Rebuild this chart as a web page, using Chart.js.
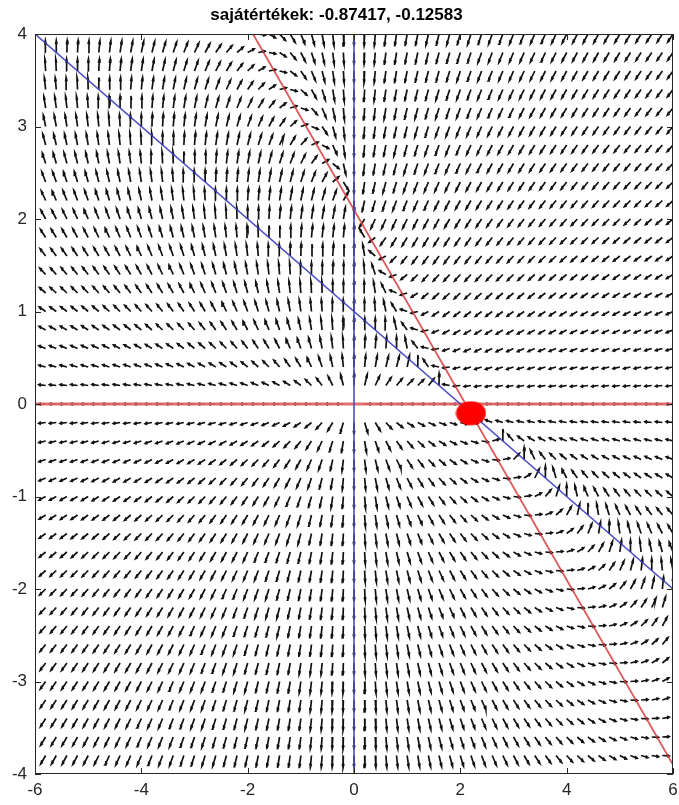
<!DOCTYPE html>
<html>
<head>
<meta charset="utf-8">
<script src="https://cdn.jsdelivr.net/npm/chart.js@4/dist/chart.umd.min.js"></script>
<style>
  html, body { margin: 0; padding: 0; background: #ffffff; }
  #wrap { width: 679px; height: 805px; }
</style>
</head>
<body>
<div id="wrap"><canvas id="c" width="679" height="805"></canvas></div>
<script>
// Eigenvalues of the Jacobian at the coexistence equilibrium
const eigenvalues = [-0.87417, -0.12583];

// Sample grid of the direction field
const gridX = [-6, -5.8, -5.6, -5.4, -5.2, -5, -4.8, -4.6, -4.4, -4.2, -4, -3.8, -3.6, -3.4, -3.2,
  -3, -2.8, -2.6, -2.4, -2.2, -2, -1.8, -1.6, -1.4, -1.2, -1, -0.8, -0.6, -0.4, -0.2, 0,
  0.2, 0.4, 0.6, 0.8, 1, 1.2, 1.4, 1.6, 1.8, 2, 2.2, 2.4, 2.6, 2.8, 3, 3.2, 3.4, 3.6, 3.8,
  4, 4.2, 4.4, 4.6, 4.8, 5, 5.2, 5.4, 5.6, 5.8, 6];
const gridY = [-4, -3.8, -3.6, -3.4, -3.2, -3, -2.8, -2.6, -2.4, -2.2, -2, -1.8, -1.6, -1.4, -1.2,
  -1, -0.8, -0.6, -0.4, -0.2, 0, 0.2, 0.4, 0.6, 0.8, 1, 1.2, 1.4, 1.6, 1.8, 2,
  2.2, 2.4, 2.6, 2.8, 3, 3.2, 3.4, 3.6, 3.8, 4];

// Model coefficients:  x' = x (a + b x + c y),  y' = y (a + b x + c y)
const rateX = [1, -0.5, -1];
const rateY = [2.1, -1, -1];

// Nullclines of x' (blue) and y' (red)
const blueDiagX = [-6, 6];
const blueDiagY = [4, -2];
const blueAxisX = [0, 0];
const blueAxisY = [-4, 4];
const redDiagX = [-1.9, 6];
const redDiagY = [4, -3.9];
const redAxisX = [-6, 6];
const redAxisY = [0, 0];

// Equilibrium where the two diagonal nullclines meet
const fixedX = [2.2];
const fixedY = [-0.1];

// Axis ticks
const xTicks = [-6, -4, -2, 0, 2, 4, 6];
const yTicks = [-4, -3, -2, -1, 0, 1, 2, 3, 4];

const ARROW_LEN = 0.13;    // arrow length in data units (vectors are normalised)
const HEAD_A = 0.33, HEAD_B = 0.33;

function pairs(xs, ys) { return xs.map((x, i) => ({ x: x, y: ys[i] })); }

// Build one polyline of normalised quiver arrows, broken by gaps
function buildArrows() {
  const pts = [];
  const gap = { x: NaN, y: NaN };
  for (const y of gridY) {
    for (const x of gridX) {
      let u = x * (rateX[0] + rateX[1] * x + rateX[2] * y);
      let v = y * (rateY[0] + rateY[1] * x + rateY[2] * y);
      const n = Math.hypot(u, v);
      if (n === 0) continue;
      u = u / n * ARROW_LEN;
      v = v / n * ARROW_LEN;
      const tx = x + u, ty = y + v;
      pts.push({ x: x, y: y }, { x: tx, y: ty }, gap);
      pts.push({ x: tx - HEAD_A * (u + HEAD_B * v), y: ty - HEAD_A * (v - HEAD_B * u) });
      pts.push({ x: tx, y: ty });
      pts.push({ x: tx - HEAD_A * (u - HEAD_B * v), y: ty - HEAD_A * (v + HEAD_B * u) });
      pts.push(gap);
    }
  }
  return pts;
}

// Elliptical marker for the equilibrium
const dot = document.createElement('canvas');
dot.width = 31; dot.height = 25;
(function () {
  const g = dot.getContext('2d');
  g.fillStyle = '#ff0000';
  g.beginPath();
  g.ellipse(15.5, 12.5, 15, 12, 0, 0, Math.PI * 2);
  g.fill();
})();

// Box around the plot with inward tick marks on all four sides
const boxTicks = {
  id: 'boxTicks',
  afterDatasetsDraw(chart) {
    const { ctx, chartArea: a, scales } = chart;
    ctx.save();
    ctx.strokeStyle = '#262626';
    ctx.lineWidth = 1;
    ctx.strokeRect(a.left + 0.5, a.top + 0.5, a.right - a.left - 1, a.bottom - a.top - 1);
    const L = 6;
    ctx.beginPath();
    for (const t of xTicks) {
      const px = Math.round(scales.x.getPixelForValue(t)) + 0.5;
      ctx.moveTo(px, a.bottom); ctx.lineTo(px, a.bottom - L);
      ctx.moveTo(px, a.top); ctx.lineTo(px, a.top + L);
    }
    for (const t of yTicks) {
      const py = Math.round(scales.y.getPixelForValue(t)) + 0.5;
      ctx.moveTo(a.left, py); ctx.lineTo(a.left + L, py);
      ctx.moveTo(a.right, py); ctx.lineTo(a.right - L, py);
    }
    ctx.stroke();
    ctx.restore();
  }
};

const tickFont = { family: "'Liberation Sans', Arial, sans-serif", size: 17 };

new Chart(document.getElementById('c'), {
  type: 'scatter',
  data: {
    datasets: [
      { label: 'egyensúlyi pont', data: pairs(fixedX, fixedY), pointStyle: dot,
        pointRadius: 12, showLine: false, clip: false, order: 0 },
      { label: 'x nullklína', data: pairs(blueDiagX, blueDiagY), showLine: true,
        borderColor: 'rgba(60,60,190,0.9)', borderWidth: 1.6, pointRadius: 0, order: 1 },
      { label: 'x nullklína (x=0)', data: pairs(blueAxisX, blueAxisY), showLine: true,
        borderColor: 'rgb(75,75,205)', borderWidth: 1.6, pointRadius: 0, order: 1 },
      { label: 'y nullklína', data: pairs(redDiagX, redDiagY), showLine: true,
        borderColor: 'rgba(215,60,60,0.85)', borderWidth: 1.8, pointRadius: 0, order: 1 },
      { label: 'y nullklína (y=0)', data: pairs(redAxisX, redAxisY), showLine: true,
        borderColor: 'rgba(225,100,100,0.92)', borderWidth: 3, pointRadius: 0, order: 1 },
      { label: 'iránymező', data: buildArrows(), showLine: true, spanGaps: false,
        borderColor: '#111111', borderWidth: 1.7, pointRadius: 0, clip: 0, order: 2 }
    ]
  },
  options: {
    responsive: false,
    devicePixelRatio: 1,
    animation: false,
    events: [],
    layout: { autoPadding: false, padding: { left: 0, right: 6, top: 0, bottom: 0 } },
    plugins: {
      legend: { display: false },
      tooltip: { enabled: false },
      title: {
        display: true,
        text: 'sajátértékek: ' + eigenvalues.map(v => v.toFixed(5)).join(', '),
        color: '#000000',
        font: { family: "'Liberation Sans', Arial, sans-serif", size: 17, weight: 'bold' },
        padding: { top: 5, bottom: 8.6 }
      }
    },
    scales: {
      x: {
        type: 'linear', min: -6, max: 6,
        afterBuildTicks: s => { s.ticks = xTicks.map(v => ({ value: v })); },
        afterFit: s => { s.height = 31; s.paddingLeft = 0; s.paddingRight = 0; },
        grid: { display: false, drawTicks: false },
        border: { display: false },
        ticks: { color: '#262626', font: tickFont, padding: 6, maxRotation: 0,
                  callback: v => String(v) }
      },
      y: {
        type: 'linear', min: -4, max: 4,
        afterBuildTicks: s => { s.ticks = yTicks.map(v => ({ value: v })); },
        afterFit: s => { s.width = 35; s.paddingTop = 0; s.paddingBottom = 0; },
        grid: { display: false, drawTicks: false },
        border: { display: false },
        ticks: { color: '#262626', font: tickFont, padding: 8,
                  callback: v => String(v) }
      }
    }
  },
  plugins: [boxTicks]
});
</script>
</body>
</html>
